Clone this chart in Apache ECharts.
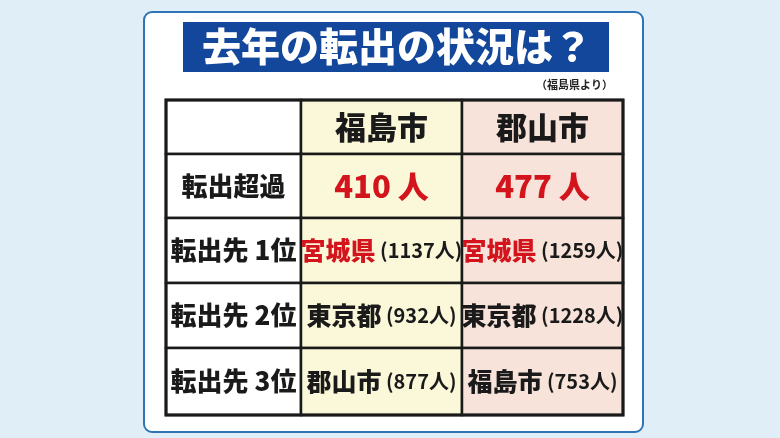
<!DOCTYPE html>
<html><head><meta charset="utf-8">
<script src="https://cdn.jsdelivr.net/npm/echarts@6/dist/echarts.min.js"></script>
<style>html,body{margin:0;padding:0;background:#dfeef7}#c{width:780px;height:438px}</style>
</head><body><div id="c"></div>
<script>
// data
var title = "去年の転出の状況は？";
var source = "（福島県より）";
var cities = ["福島市", "郡山市"];
var rowLabels = ["転出超過", "転出先 1位", "転出先 2位", "転出先 3位"];
var excess = [410, 477];
var destNames = [["宮城県", "東京都", "郡山市"], ["宮城県", "東京都", "福島市"]];
var destCounts = [[1137, 932, 877], [1259, 1228, 753]];

// layout
var colEdges = [166, 301, 462, 623];
var rowEdges = [100, 154, 218, 283, 348, 415];
var colFill = ["#ffffff", "#fbf8da", "#f7e3da"];
var font = '"Noto Sans CJK JP", sans-serif';
var red = "#d4141c";

var chart = echarts.init(document.getElementById("c"));
var els = [];
els.push({type: "rect", shape: {x: 144, y: 12, width: 499, height: 420, r: 8},
  style: {fill: "#fff", stroke: "#2f74b5", lineWidth: 2}});
els.push({type: "rect", shape: {x: 183, y: 22, width: 426, height: 50},
  style: {fill: "#13479b"}});
els.push({type: "text", x: 397, y: 46, style: {text: title, fill: "#fff",
  font: "900 39px " + font, align: "center", verticalAlign: "middle"}});
els.push({type: "text", x: 613, y: 85, style: {text: source, fill: "#222",
  font: "bold 11px " + font, align: "right", verticalAlign: "middle"}});

function cellText(r, c) {
  if (r === 0) return c === 0 ? "" : "{h|" + cities[c - 1] + "}";
  if (c === 0) return "{l|" + rowLabels[r - 1] + "}";
  if (r === 1) return "{big|" + excess[c - 1] + " 人}";
  var k = r - 2;
  var nm = destNames[c - 1][k];
  return "{" + (k === 0 ? "rn" : "n") + "|" + nm + "}{s| (" + destCounts[c - 1][k] + "人)}";
}
for (var r = 0; r < rowEdges.length - 1; r++) {
  for (var c = 0; c < colEdges.length - 1; c++) {
    var x0 = colEdges[c], x1 = colEdges[c + 1], y0 = rowEdges[r], y1 = rowEdges[r + 1];
    els.push({type: "rect", shape: {x: x0, y: y0, width: x1 - x0, height: y1 - y0},
      style: {fill: colFill[c], stroke: "#1a1a1a", lineWidth: 2.5}});
    els.push({type: "text", x: (x0 + x1) / 2, y: (y0 + y1) / 2, style: {
      text: cellText(r, c), align: "center", verticalAlign: "middle",
      rich: {
        h: {font: "900 31px " + font, fill: "#1a1a1a"},
        l: {font: "900 26px " + font, fill: "#1a1a1a"},
        big: {font: "900 31px " + font, fill: red},
        rn: {font: "900 25px " + font, fill: red},
        n: {font: "900 25px " + font, fill: "#1a1a1a"},
        s: {font: "bold 20px " + font, fill: "#1a1a1a"}
      }}});
  }
}
els.push({type: "rect", shape: {x: 166, y: 100, width: 457, height: 315},
  style: {fill: null, stroke: "#1a1a1a", lineWidth: 3}});

chart.setOption({backgroundColor: "#dfeef7", graphic: {elements: els}});
</script></body></html>
